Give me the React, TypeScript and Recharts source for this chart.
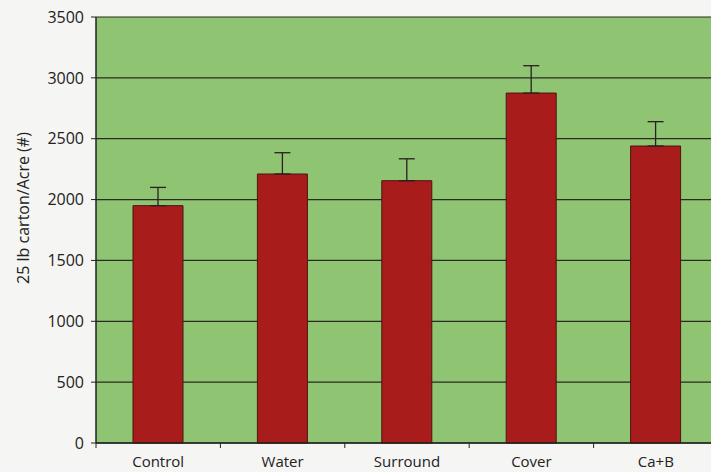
import React from 'react';
import { BarChart, Bar, XAxis, YAxis, CartesianGrid, ErrorBar } from 'recharts';

const categories = ['Control', 'Water', 'Surround', 'Cover', 'Ca+B'];
const cartons = [1950, 2210, 2155, 2875, 2440];
const errors = [150, 175, 180, 225, 200];
const yTicks = [0, 500, 1000, 1500, 2000, 2500, 3000, 3500];

const data = categories.map((c, i) => ({ name: c, value: cartons[i], err: [0, errors[i]] }));

const FONT = '"Open Sans", Lato, sans-serif';

const XTick = (props: any) => {
  const { x, y, payload, index, width } = props;
  const half = payload && payload.offset ? payload.offset : width / categories.length / 2;
  const cx = payload.coordinate;
  const axisY = y - 8;
  return (
    <g>
      <line x1={cx - half} x2={cx - half} y1={axisY} y2={axisY + 5} stroke="#222" strokeWidth={1} />
      {index === categories.length - 1 && (
        <line x1={cx + half} x2={cx + half} y1={axisY} y2={axisY + 5} stroke="#222" strokeWidth={1} />
      )}
      <text x={x} y={y + 16} textAnchor="middle" fontFamily={FONT} fontSize={15} fill="#222">
        {payload.value}
      </text>
    </g>
  );
};

const YLabel = (props: any) => {
  const vb = props.viewBox || { x: 0, y: 17, height: 426 };
  const cx = vb.x + 23;
  const cy = 208;
  return (
    <text x={cx} y={cy} transform={`rotate(-90, ${cx}, ${cy})`} textAnchor="middle" dominantBaseline="central"
      fontFamily={FONT} fontSize={16} fill="#222">
      25 lb carton/Acre (#)
    </text>
  );
};

export default function App() {
  return (
    <div style={{ position: 'absolute', left: 0, top: 0, width: 711, height: 472, overflow: 'hidden', background: '#f5f5f3' }}>
      <BarChart width={740} height={472} data={data} margin={{ top: 17, right: 22, left: 0, bottom: 0 }}>
        <CartesianGrid vertical={false} horizontal={true} stroke="#2a2a22" strokeWidth={1.2} fill="#8fc473" fillOpacity={1} />
        <XAxis dataKey="name" height={29} axisLine={{ stroke: '#222', strokeWidth: 1.5 }} tickLine={false}
          tick={<XTick />} interval={0} />
        <YAxis width={96} domain={[0, 3500]} ticks={yTicks} interval={0} tickSize={5} tickMargin={7}
          axisLine={{ stroke: '#222', strokeWidth: 1.5 }} tickLine={{ stroke: '#222' }}
          tick={{ fontFamily: FONT, fontSize: 16, fill: '#222' }} label={<YLabel />} />
        <Bar dataKey="value" fill="#a81c1c" stroke="#4a1410" strokeWidth={1} barSize={50} isAnimationActive={false}>
          <ErrorBar dataKey="err" direction="y" width={8} stroke="#2a2020" strokeWidth={1.3} />
        </Bar>
      </BarChart>
    </div>
  );
}
